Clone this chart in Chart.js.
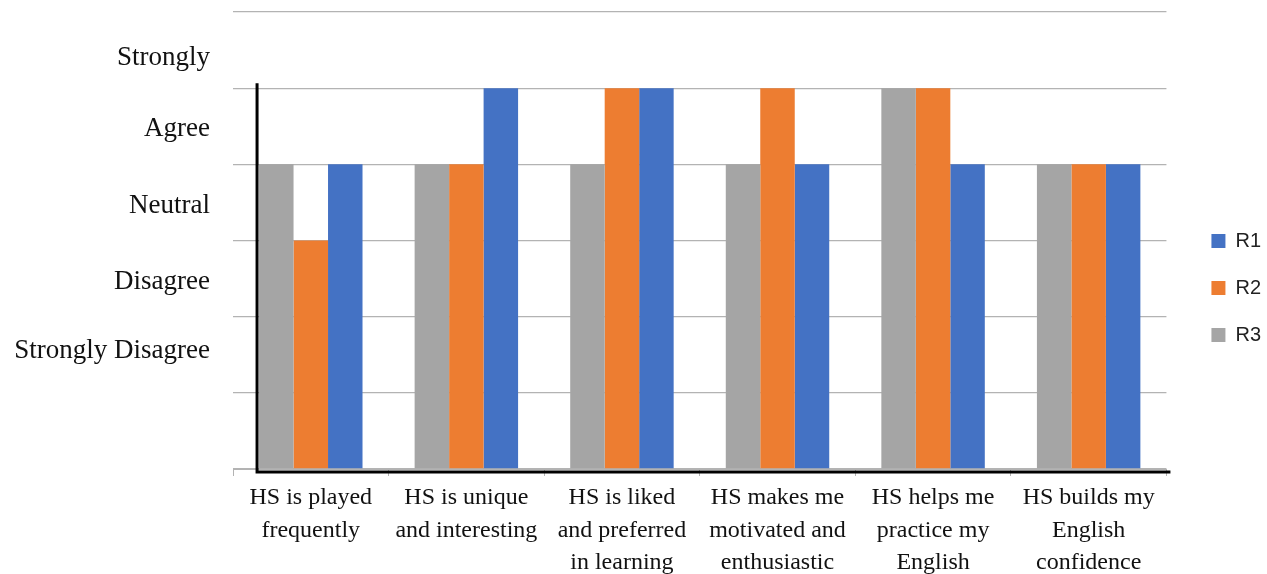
<!DOCTYPE html>
<html>
<head>
<meta charset="utf-8">
<script src="https://cdn.jsdelivr.net/npm/chart.js@4"></script>
<style>
  html, body { margin: 0; padding: 0; background: #fff; }
  #wrap { width: 1267px; height: 574px; }
</style>
</head>
<body>
<div id="wrap"><canvas id="hsChart" width="1267" height="574"></canvas></div>
<script>
// categories (x axis), each label split in lines as in the picture
var categories = [
    ["HS is played", "frequently"],
    ["HS is unique", "and interesting"],
    ["HS is liked", "and preferred", "in learning"],
    ["HS makes me", "motivated and", "enthusiastic"],
    ["HS helps me", "practice my", "English"],
    ["HS builds my", "English", "confidence"]
]

// series values (0..6 scale)
var r1 = [4, 5, 5, 4, 4, 4]
var r2 = [3, 4, 5, 5, 5, 4]
var r3 = [4, 4, 4, 4, 5, 4]

// y tick labels sit between grid lines (positions)
var levelValues = [1.55, 2.45, 3.45, 4.47, 5.4]
var levelLabels = ["Strongly Disagree", "Disagree", "Neutral", "Agree", "Strongly"]

var serif = "'Liberation Serif', 'DejaVu Serif', serif"

var axisLines = {
    id: 'axisLines',
    afterLayout: function (chart) {
        // push legend items a bit further right / up, like the picture
        chart.legend.left += 18
        chart.legend.right += 18
        chart.legend.top -= 5
        chart.legend.bottom -= 5
    },
    // black L-shaped axis drawn over the plot
    afterDatasetsDraw: function (chart) {
        var ctx = chart.ctx
        var area = chart.chartArea
        var y = chart.scales.y
        var first = chart.getDatasetMeta(0).data[0]
        var x0 = first.x - first.width / 2 - 2
        ctx.save()
        ctx.strokeStyle = '#000'
        ctx.lineWidth = 3
        ctx.beginPath()
        ctx.moveTo(x0, y.getPixelForValue(5) - 5)
        ctx.lineTo(x0, area.bottom + 3)
        ctx.lineTo(area.right + 4, area.bottom + 3)
        ctx.stroke()
        ctx.restore()
    }
}

var canvas = document.querySelector("#hsChart")

var barChart = new Chart(canvas, {
    type: 'bar',
    data: {
        labels: categories,
        datasets: [
            { label: 'R3', data: r3, backgroundColor: '#A5A5A5' },
            { label: 'R2', data: r2, backgroundColor: '#ED7D31' },
            { label: 'R1', data: r1, backgroundColor: '#4472C4' }
        ]
    },
    options: {
        responsive: false,
        animation: false,
        layout: { padding: { top: 12, right: 14, left: 0, bottom: 0 } },
        datasets: {
            bar: { barPercentage: 1, categoryPercentage: 0.665 }
        },
        scales: {
            x: {
                grid: {
                    offset: true,
                    drawOnChartArea: false,
                    drawTicks: true,
                    tickLength: 7,
                    color: '#b3b3b3'
                },
                border: { display: true, color: '#b3b3b3' },
                ticks: {
                    color: '#111',
                    font: { family: serif, size: 24, lineHeight: 1.35 },
                    maxRotation: 0,
                    autoSkip: false,
                    padding: 6
                },
                afterFit: function (s) { s.height = 105 }
            },
            y: {
                min: 0,
                max: 6,
                afterBuildTicks: function (s) {
                    var t = []
                    for (var v = 0; v <= 6; v++) t.push({ value: v })
                    for (var i = 0; i < levelValues.length; i++) t.push({ value: levelValues[i] })
                    t.sort(function (a, b) { return a.value - b.value })
                    s.ticks = t
                },
                grid: {
                    drawTicks: false,
                    color: function (c) {
                        return Number.isInteger(c.tick.value) ? '#b3b3b3' : 'rgba(0,0,0,0)'
                    },
                    lineWidth: 1.3
                },
                border: { display: false },
                ticks: {
                    color: '#111',
                    padding: 23,
                    font: { family: serif, size: 27 },
                    callback: function (v) {
                        var i = levelValues.indexOf(v)
                        return i >= 0 ? levelLabels[i] : ''
                    }
                },
                afterFit: function (s) {
                    s.width = 233
                    s.paddingTop = 0
                    s.paddingBottom = 0
                }
            }
        },
        plugins: {
            legend: {
                position: 'right',
                reverse: true,
                labels: {
                    boxWidth: 14,
                    boxHeight: 14,
                    padding: 27,
                    color: '#222',
                    font: { family: "'Liberation Sans', Arial, sans-serif", size: 20 }
                }
            },
            tooltip: { enabled: false }
        }
    },
    plugins: [axisLines]
});
</script>
</body>
</html>
